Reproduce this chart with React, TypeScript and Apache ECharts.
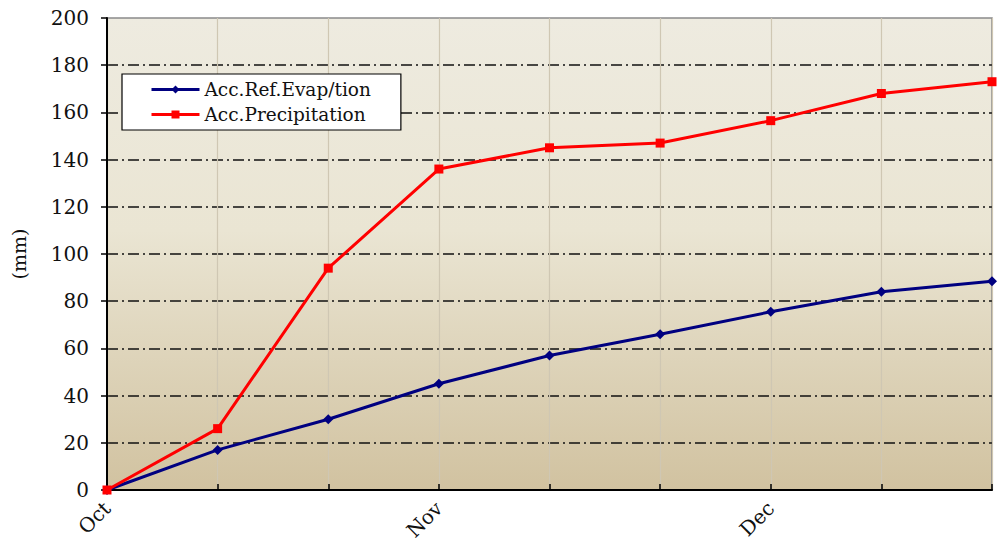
import React, { useEffect, useRef } from "react";
import * as echarts from "echarts";

const categories = ["Oct", "", "", "Nov", "", "", "Dec", "", ""];
const evapValues = [0, 17, 30, 45, 57, 66, 75.5, 84, 88.5];
const precipValues = [0, 26, 94, 136, 145, 147, 156.5, 168, 173];
const yTicks = { min: 0, max: 200, interval: 20 };

const FONT = "'DejaVu Serif', 'Liberation Serif', serif";

export default function App() {
  const ref = useRef<HTMLDivElement>(null);
  useEffect(() => {
    const chart = echarts.init(ref.current!, null, { renderer: "svg" });
    chart.setOption({
      animation: false,
      backgroundColor: "#ffffff",
      textStyle: { fontFamily: FONT },
      grid: {
        left: 107,
        right: 16,
        top: 18,
        bottom: 58,
        show: true,
        borderColor: "#8a8a8a",
        borderWidth: 1.5,
        backgroundColor: new echarts.graphic.LinearGradient(0, 0, 0, 1, [
          { offset: 0, color: "#EEEBE0" },
          { offset: 0.45, color: "#EAE5D3" },
          { offset: 1, color: "#D1C2A0" },
        ]),
      },
      legend: {
        left: 122,
        top: 74,
        orient: "vertical",
        backgroundColor: "#ffffff",
        borderColor: "#000000",
        borderWidth: 1.2,
        borderRadius: 0,
        padding: [6, 30, 6, 28],
        itemGap: 6,
        itemWidth: 48,
        itemHeight: 10,
        lineStyle: { width: 3 },
        textStyle: { fontFamily: FONT, fontSize: 18.5, color: "#111" },
        data: ["Acc.Ref.Evap/tion", "Acc.Precipitation"],
      },
      xAxis: {
        type: "category",
        data: categories,
        boundaryGap: false,
        axisLine: { lineStyle: { color: "#000", width: 2 } },
        axisTick: { show: true, inside: true, length: 6, interval: 0, lineStyle: { color: "#000", width: 1.5 } },
        axisLabel: {
          interval: 0,
          rotate: 45,
          fontFamily: FONT,
          fontSize: 20,
          color: "#111",
          margin: 15,
        },
        splitLine: { show: true, interval: 0, lineStyle: { color: "#CFC7B3", width: 1.2 } },
      },
      yAxis: {
        type: "value",
        min: yTicks.min,
        max: yTicks.max,
        interval: yTicks.interval,
        name: "(mm)",
        nameLocation: "middle",
        nameGap: 79,
        nameTextStyle: { fontFamily: FONT, fontSize: 19, color: "#111" },
        axisLine: { show: true, lineStyle: { color: "#000", width: 2 } },
        axisTick: { show: true, length: 6, lineStyle: { color: "#000", width: 1.5 } },
        axisLabel: { fontFamily: FONT, fontSize: 20, color: "#111", margin: 18 },
        splitLine: {
          show: true,
          showMaxLine: false,
          lineStyle: { color: "#111", width: 1.5, type: [11, 4, 2, 4] },
        },
      },
      series: [
        {
          name: "Acc.Ref.Evap/tion",
          type: "line",
          data: evapValues,
          symbol: "diamond",
          symbolSize: 10,
          itemStyle: { color: "#000080" },
          lineStyle: { color: "#000080", width: 3 },
          z: 3,
        },
        {
          name: "Acc.Precipitation",
          type: "line",
          data: precipValues,
          symbol: "rect",
          symbolSize: 9,
          itemStyle: { color: "#FF0000" },
          lineStyle: { color: "#FF0000", width: 3 },
          z: 4,
        },
      ],
    });
    return () => chart.dispose();
  }, []);
  return (
    <div
      ref={ref}
      style={{ position: "fixed", left: 0, top: 0, width: 1008, height: 548 }}
    />
  );
}
